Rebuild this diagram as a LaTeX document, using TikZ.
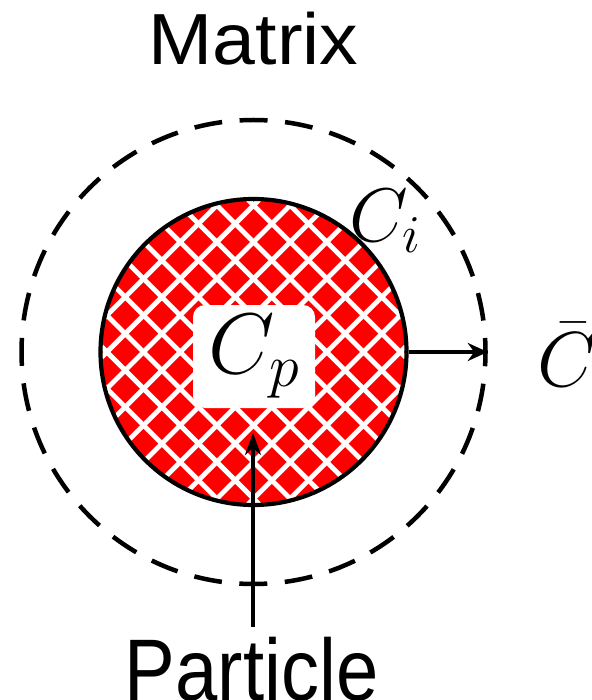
\RequirePackage{fix-cm}
\documentclass[tikz,border=0pt]{standalone}
\usepackage{fontspec}
\newfontfamily\arial{Liberation Sans}
\usetikzlibrary{arrows.meta,calc}
\begin{document}
\begin{tikzpicture}[x=1pt,y=-1pt,
  hatchdisc/.style={circle, draw=black, line width=4.2pt, fill=red, minimum size=306pt, inner sep=0pt},
  matrixring/.style={circle, draw=black, line width=4.5pt, dash pattern=on 28pt off 17.55pt, dash phase=14pt, minimum size=464pt, inner sep=0pt},
  hatchline/.style={draw=white, line width=4.8pt},
  corebox/.style={fill=white, rounded corners=12pt, minimum width=122pt, minimum height=103pt, inner sep=0pt},
  pointer/.style={line width=3.5pt, -{Stealth[length=20pt, width=18pt]}},
  uppointer/.style={line width=3.5pt, -{Stealth[length=22pt, width=16pt]}},
  biglabel/.style={font=\arial\fontsize{77}{80}\selectfont, inner sep=0pt, outer sep=0pt},
  mathlabel/.style={inner sep=0pt, outer sep=0pt}]
\useasboundingbox (0,0) rectangle (591,700);
\node[matrixring] (ring) at (253.5,352) {};
\node[hatchdisc, path picture={
  \foreach \k in {-9,...,9} {
    \draw[hatchline] ($(path picture bounding box.center)+(\k*36.66-180,-180)$) -- ++(360,360);
    \draw[hatchline] ($(path picture bounding box.center)+(\k*36.66-180,180)$) -- ++(360,-360);
  }}] (disc) at (253.5,352) {};
\node[corebox, font=\fontsize{86}{90}\selectfont] (core) at (254,356.5) {$C_p$};
\draw[pointer] (disc.east) -- (ring.east);
\coordinate (tip) at (253,433);
\node[biglabel, anchor=base] (matrixlabel) at (253.5,65) {\scalebox{1}[0.94]{Matrix}};
\node[biglabel, anchor=base, inner ysep=10pt, font=\arial\fontsize{76}{80}\selectfont] (particle) at (251.6,700) {\scalebox{1}[1.15]{Particle}};
\draw[uppointer] (tip |- particle.north) -- (tip);
\node[mathlabel, anchor=base west, font=\fontsize{76}{80}\selectfont] (ci) at (349,241) {$C_i$};
\node[mathlabel, anchor=base west, font=\fontsize{78}{82}\selectfont] (cbar) at (537,386) {$\bar C$};
\end{tikzpicture}
\end{document}
